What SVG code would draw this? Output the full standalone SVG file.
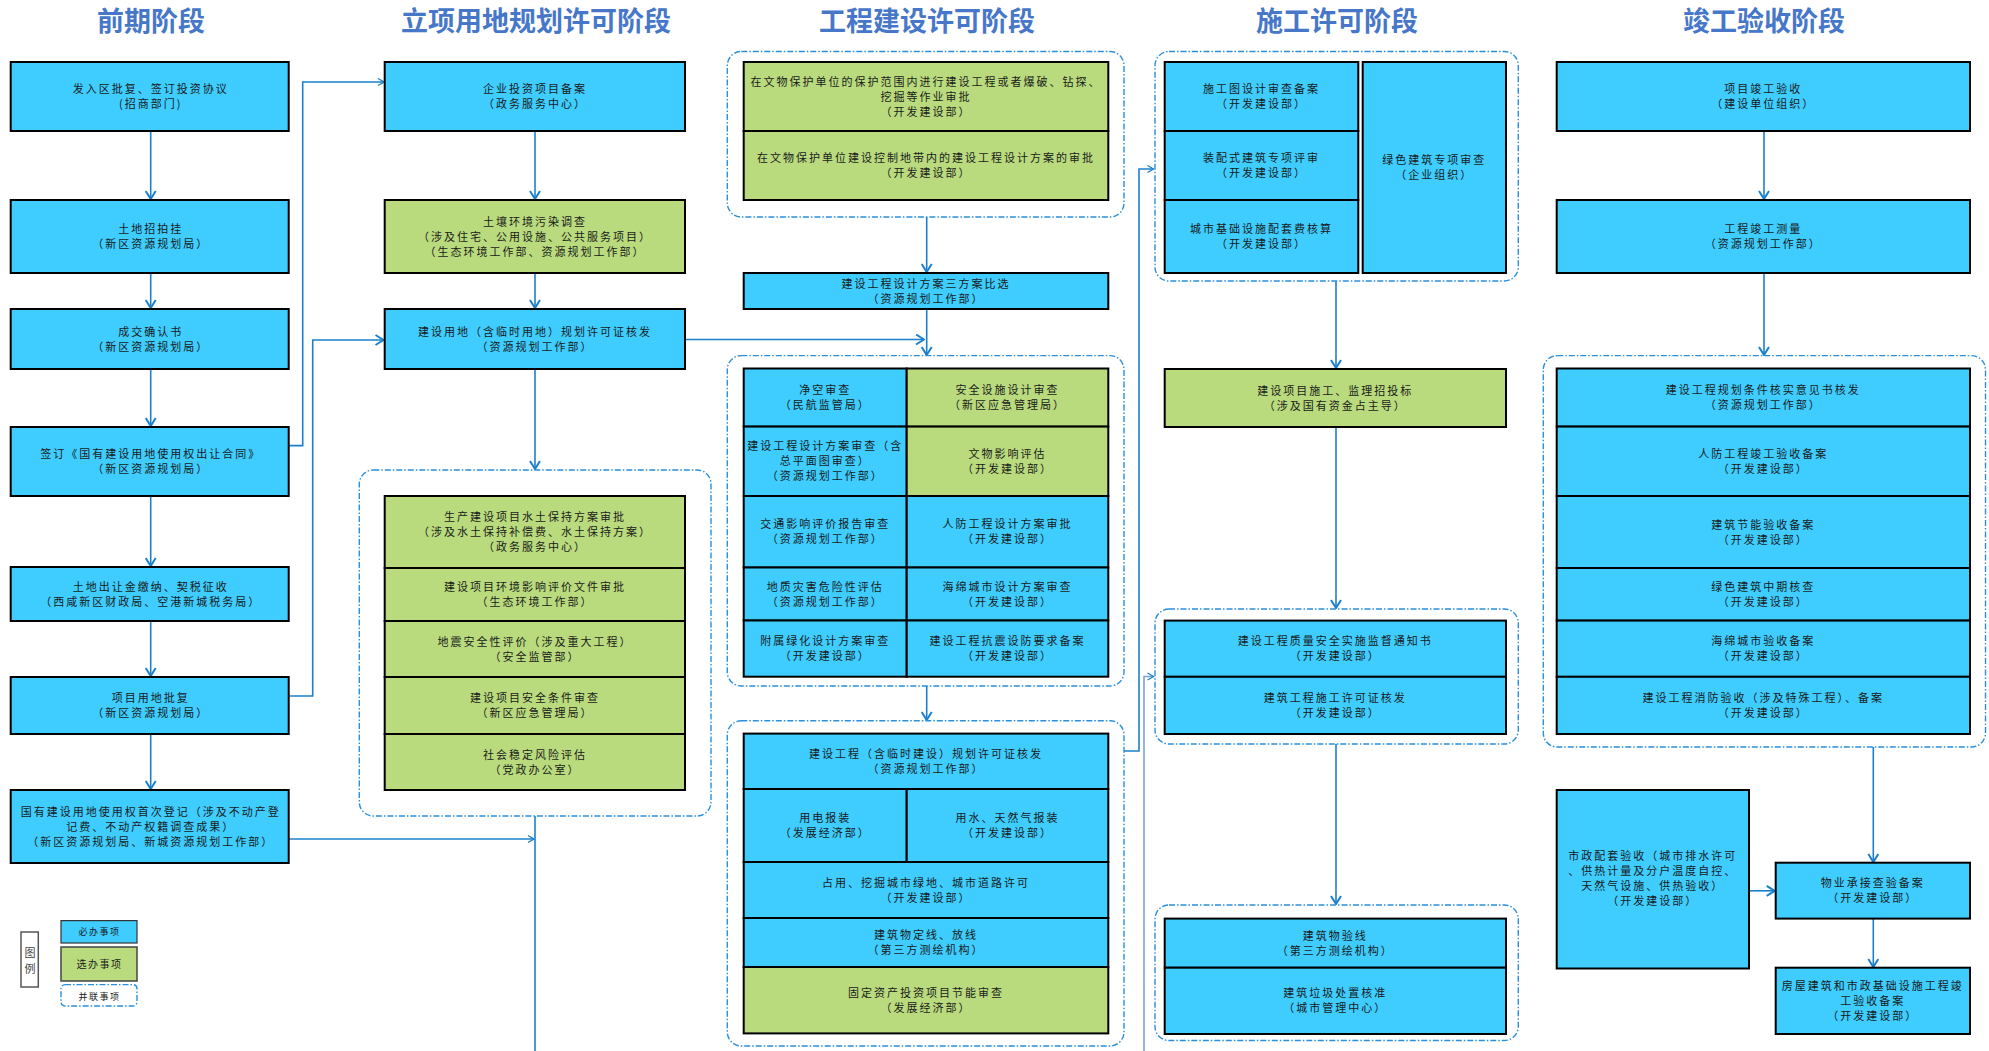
<svg xmlns="http://www.w3.org/2000/svg" width="1989" height="1051" viewBox="0 0 1989 1051">
<style>
.b{fill:#3ecdfe;stroke:#000;stroke-width:2}
.g{fill:#b9db7e;stroke:#000;stroke-width:2}
.grp{fill:none;stroke:#2a8fdc;stroke-width:1.4;stroke-dasharray:6 2 1.5 2}
.c{fill:none;stroke:#1b80cc;stroke-width:1.6}
.c2{fill:none;stroke:#7f9edc;stroke-width:1.6}
.t{font-family:"Noto Sans CJK SC","Noto Sans",sans-serif;font-size:11px;letter-spacing:2px;fill:#1a1a1a;text-anchor:middle}
.h{font-family:"Noto Sans CJK SC","Noto Sans",sans-serif;font-size:27px;font-weight:bold;fill:#4677c8;text-anchor:middle}
</style>
<defs>
<marker id="a" markerUnits="userSpaceOnUse" viewBox="0 0 10 12" markerWidth="10" markerHeight="12" refX="9" refY="6" orient="auto"><path d="M1,1 L9,6 L1,11" fill="none" stroke="#1b80cc" stroke-width="2"/></marker>
<marker id="s" markerUnits="userSpaceOnUse" viewBox="0 0 8 10" markerWidth="8" markerHeight="10" refX="7" refY="5" orient="auto"><path d="M1,1.5 L7,5 L1,8.5" fill="none" stroke="#1b80cc" stroke-width="1.3"/></marker>
</defs>

<g id="titles">
<text class="h" x="151" y="31">前期阶段</text>
<text class="h" x="536" y="31">立项用地规划许可阶段</text>
<text class="h" x="927" y="31">工程建设许可阶段</text>
<text class="h" x="1337" y="31">施工许可阶段</text>
<text class="h" x="1764" y="31">竣工验收阶段</text>
</g>

<g id="connectors">
<line class="c" x1="150.7" y1="131" x2="150.7" y2="199" marker-end="url(#a)"/>
<line class="c" x1="150.7" y1="273" x2="150.7" y2="308" marker-end="url(#a)"/>
<line class="c" x1="150.7" y1="369" x2="150.7" y2="426" marker-end="url(#a)"/>
<line class="c" x1="150.7" y1="496" x2="150.7" y2="566" marker-end="url(#a)"/>
<line class="c" x1="150.7" y1="621" x2="150.7" y2="676" marker-end="url(#a)"/>
<line class="c" x1="150.7" y1="734" x2="150.7" y2="789" marker-end="url(#a)"/>
<polyline class="c" points="288.7,445.6 302.7,445.6 302.7,82 384,82" marker-end="url(#s)"/>
<polyline class="c" points="288.7,696 312.7,696 312.7,340 383.5,340" marker-end="url(#a)"/>
<line class="c" x1="288.7" y1="839" x2="534" y2="839" marker-end="url(#s)"/>
<line class="c" x1="535" y1="131" x2="535" y2="199" marker-end="url(#a)"/>
<line class="c" x1="535" y1="273" x2="535" y2="308" marker-end="url(#a)"/>
<line class="c" x1="535" y1="369" x2="535" y2="469" marker-end="url(#a)"/>
<line class="c" x1="535" y1="816" x2="535" y2="1051"/>
<line class="c" x1="685" y1="339.5" x2="924" y2="339.5" marker-end="url(#a)"/>
<line class="c" x1="926.7" y1="217" x2="926.7" y2="272" marker-end="url(#a)"/>
<line class="c" x1="926.7" y1="309" x2="926.7" y2="355" marker-end="url(#a)"/>
<line class="c" x1="926.7" y1="686" x2="926.7" y2="720" marker-end="url(#a)"/>
<polyline class="c" points="1124,751 1139,751 1139,169 1153.5,169" marker-end="url(#s)"/>
<polyline class="c2" points="1144,1051 1144,676.5 1153.5,676.5" marker-end="url(#s)"/>
<line class="c" x1="1336" y1="281" x2="1336" y2="368" marker-end="url(#a)"/>
<line class="c" x1="1336" y1="427" x2="1336" y2="608" marker-end="url(#a)"/>
<line class="c" x1="1336" y1="744" x2="1336" y2="904" marker-end="url(#a)"/>
<line class="c" x1="1764" y1="131" x2="1764" y2="199" marker-end="url(#a)"/>
<line class="c" x1="1764" y1="273" x2="1764" y2="355" marker-end="url(#a)"/>
<line class="c" x1="1873.3" y1="747" x2="1873.3" y2="862" marker-end="url(#a)"/>
<line class="c" x1="1873.3" y1="918.6" x2="1873.3" y2="967" marker-end="url(#a)"/>
<line class="c" x1="1749" y1="890.8" x2="1774.7" y2="890.8" marker-end="url(#a)"/>
</g>

<g id="n-c1-1"><rect class="b" x="10.7" y="62" width="278" height="69"/><text class="t" x="150.7" y="93">发入区批复、签订投资协议</text><text class="t" x="150.7" y="108">(招商部门)</text></g>
<g id="n-c1-2"><rect class="b" x="10.7" y="200" width="278" height="73"/><text class="t" x="150.7" y="233">土地招拍挂</text><text class="t" x="150.7" y="248">（新区资源规划局）</text></g>
<g id="n-c1-3"><rect class="b" x="10.7" y="309" width="278" height="60"/><text class="t" x="150.7" y="335.5">成交确认书</text><text class="t" x="150.7" y="350.5">（新区资源规划局）</text></g>
<g id="n-c1-4"><rect class="b" x="10.7" y="427" width="278" height="69"/><text class="t" x="150.7" y="458">签订《国有建设用地使用权出让合同》</text><text class="t" x="150.7" y="473">（新区资源规划局）</text></g>
<g id="n-c1-5"><rect class="b" x="10.7" y="567" width="278" height="54"/><text class="t" x="150.7" y="590.5">土地出让金缴纳、契税征收</text><text class="t" x="150.7" y="605.5">（西咸新区财政局、空港新城税务局）</text></g>
<g id="n-c1-6"><rect class="b" x="10.7" y="677" width="278" height="57"/><text class="t" x="150.7" y="702">项目用地批复</text><text class="t" x="150.7" y="717">（新区资源规划局）</text></g>
<g id="n-c1-7"><rect class="b" x="10.7" y="790" width="278" height="73"/><text class="t" x="150.7" y="815.5">国有建设用地使用权首次登记（涉及不动产登</text><text class="t" x="150.7" y="830.5">记费、不动产权籍调查成果）</text><text class="t" x="150.7" y="845.5">（新区资源规划局、新城资源规划工作部）</text></g>

<g id="legend">
<rect x="21" y="932" width="17.3" height="55" fill="#fff" stroke="#555" stroke-width="1.5"/>
<text class="t" x="30" y="957" style="letter-spacing:0;fill:#444">图</text>
<text class="t" x="30" y="973" style="letter-spacing:0;fill:#444">例</text>
<rect x="61" y="920.6" width="76" height="22.4" fill="#3ecdfe" stroke="#333" stroke-width="1.2"/>
<text class="t" x="99.5" y="935" style="font-size:9px;letter-spacing:1.5px">必办事项</text>
<rect x="61" y="947" width="76" height="34" fill="#b9db7e" stroke="#444" stroke-width="1.5"/>
<text class="t" x="99.5" y="967.5" style="font-size:10px;letter-spacing:1.5px">选办事项</text>
<rect class="grp" x="61" y="984.6" width="76" height="21.4" rx="4"/>
<text class="t" x="99.5" y="999.5" style="font-size:9px;letter-spacing:1.5px">并联事项</text>
</g>

<g id="n-c2-1"><rect class="b" x="384.7" y="62" width="300.3" height="69"/><text class="t" x="535" y="93">企业投资项目备案</text><text class="t" x="535" y="108">（政务服务中心）</text></g>
<g id="n-c2-2"><rect class="g" x="384.7" y="200" width="300.3" height="73"/><text class="t" x="535" y="225.5">土壤环境污染调查</text><text class="t" x="535" y="240.5">（涉及住宅、公用设施、公共服务项目）</text><text class="t" x="535" y="255.5">（生态环境工作部、资源规划工作部）</text></g>
<g id="n-c2-3"><rect class="b" x="384.7" y="309" width="300.3" height="60"/><text class="t" x="535" y="335.5">建设用地（含临时用地）规划许可证核发</text><text class="t" x="535" y="350.5">（资源规划工作部）</text></g>
<g id="grp-c2"><rect class="grp" x="359.3" y="470" width="351.7" height="346" rx="14"/></g>
<g id="n-c2-r1"><rect class="g" x="384.7" y="496" width="300.3" height="72"/><text class="t" x="535" y="521">生产建设项目水土保持方案审批</text><text class="t" x="535" y="536">（涉及水土保持补偿费、水土保持方案）</text><text class="t" x="535" y="551">（政务服务中心）</text></g>
<g id="n-c2-r2"><rect class="g" x="384.7" y="568" width="300.3" height="53"/><text class="t" x="535" y="591">建设项目环境影响评价文件审批</text><text class="t" x="535" y="606">（生态环境工作部）</text></g>
<g id="n-c2-r3"><rect class="g" x="384.7" y="621" width="300.3" height="56"/><text class="t" x="535" y="645.5">地震安全性评价（涉及重大工程）</text><text class="t" x="535" y="660.5">（安全监管部）</text></g>
<g id="n-c2-r4"><rect class="g" x="384.7" y="677" width="300.3" height="57"/><text class="t" x="535" y="702">建设项目安全条件审查</text><text class="t" x="535" y="717">（新区应急管理局）</text></g>
<g id="n-c2-r5"><rect class="g" x="384.7" y="734" width="300.3" height="56"/><text class="t" x="535" y="758.5">社会稳定风险评估</text><text class="t" x="535" y="773.5">（党政办公室）</text></g>

<g id="grp-c3-1"><rect class="grp" x="727.3" y="51.5" width="396.7" height="165.5" rx="14"/></g>
<g id="n-c3-1"><rect class="g" x="743.7" y="62" width="364.6" height="69"/><text class="t" x="926" y="85.5">在文物保护单位的保护范围内进行建设工程或者爆破、钻探、</text><text class="t" x="926" y="100.5">挖掘等作业审批</text><text class="t" x="926" y="115.5">（开发建设部）</text></g>
<g id="n-c3-2"><rect class="g" x="743.7" y="131" width="364.6" height="69"/><text class="t" x="926" y="162">在文物保护单位建设控制地带内的建设工程设计方案的审批</text><text class="t" x="926" y="177">（开发建设部）</text></g>
<g id="n-c3-3"><rect class="b" x="743.7" y="273" width="364.6" height="36"/><text class="t" x="926" y="287.5">建设工程设计方案三方案比选</text><text class="t" x="926" y="302.5">（资源规划工作部）</text></g>
<g id="grp-c3-2"><rect class="grp" x="727.3" y="355.6" width="396.7" height="330.4" rx="14"/></g>
<g id="n-c3-4"><rect class="b" x="743.7" y="368.5" width="163" height="58.1"/><text class="t" x="825.2" y="394">净空审查</text><text class="t" x="825.2" y="409">（民航监管局）</text></g>
<g id="n-c3-5"><rect class="g" x="906.7" y="368.5" width="201.6" height="58.1"/><text class="t" x="1007.5" y="394">安全设施设计审查</text><text class="t" x="1007.5" y="409">（新区应急管理局）</text></g>
<g id="n-c3-6"><rect class="b" x="743.7" y="426.6" width="163" height="69.4"/><text class="t" x="825.2" y="450.3">建设工程设计方案审查（含</text><text class="t" x="825.2" y="465.3">总平面图审查）</text><text class="t" x="825.2" y="480.3">（资源规划工作部）</text></g>
<g id="n-c3-7"><rect class="g" x="906.7" y="426.6" width="201.6" height="69.4"/><text class="t" x="1007.5" y="457.8">文物影响评估</text><text class="t" x="1007.5" y="472.8">（开发建设部）</text></g>
<g id="n-c3-8"><rect class="b" x="743.7" y="496" width="163" height="71.5"/><text class="t" x="825.2" y="528.3">交通影响评价报告审查</text><text class="t" x="825.2" y="543.3">（资源规划工作部）</text></g>
<g id="n-c3-9"><rect class="b" x="906.7" y="496" width="201.6" height="71.5"/><text class="t" x="1007.5" y="528.3">人防工程设计方案审批</text><text class="t" x="1007.5" y="543.3">（开发建设部）</text></g>
<g id="n-c3-10"><rect class="b" x="743.7" y="567.5" width="163" height="53"/><text class="t" x="825.2" y="590.5">地质灾害危险性评估</text><text class="t" x="825.2" y="605.5">（资源规划工作部）</text></g>
<g id="n-c3-11"><rect class="b" x="906.7" y="567.5" width="201.6" height="53"/><text class="t" x="1007.5" y="590.5">海绵城市设计方案审查</text><text class="t" x="1007.5" y="605.5">（开发建设部）</text></g>
<g id="n-c3-12"><rect class="b" x="743.7" y="620.5" width="163" height="56.2"/><text class="t" x="825.2" y="645.1">附属绿化设计方案审查</text><text class="t" x="825.2" y="660.1">（开发建设部）</text></g>
<g id="n-c3-13"><rect class="b" x="906.7" y="620.5" width="201.6" height="56.2"/><text class="t" x="1007.5" y="645.1">建设工程抗震设防要求备案</text><text class="t" x="1007.5" y="660.1">（开发建设部）</text></g>
<g id="grp-c3-3"><rect class="grp" x="727.3" y="720.7" width="396.7" height="325.3" rx="14"/></g>
<g id="n-c3-14"><rect class="b" x="743.7" y="733.6" width="364.6" height="55.4"/><text class="t" x="926" y="757.8">建设工程（含临时建设）规划许可证核发</text><text class="t" x="926" y="772.8">（资源规划工作部）</text></g>
<g id="n-c3-15"><rect class="b" x="743.7" y="789" width="163" height="73"/><text class="t" x="825.2" y="822">用电报装</text><text class="t" x="825.2" y="837">（发展经济部）</text></g>
<g id="n-c3-16"><rect class="b" x="906.7" y="789" width="201.6" height="73"/><text class="t" x="1007.5" y="822">用水、天然气报装</text><text class="t" x="1007.5" y="837">（开发建设部）</text></g>
<g id="n-c3-17"><rect class="b" x="743.7" y="862" width="364.6" height="56"/><text class="t" x="926" y="886.5">占用、挖掘城市绿地、城市道路许可</text><text class="t" x="926" y="901.5">（开发建设部）</text></g>
<g id="n-c3-18"><rect class="b" x="743.7" y="918" width="364.6" height="49"/><text class="t" x="926" y="939">建筑物定线、放线</text><text class="t" x="926" y="954">（第三方测绘机构）</text></g>
<g id="n-c3-19"><rect class="g" x="743.7" y="967" width="364.6" height="66.4"/><text class="t" x="926" y="996.7">固定资产投资项目节能审查</text><text class="t" x="926" y="1011.7">（发展经济部）</text></g>

<g id="grp-c4-1"><rect class="grp" x="1155" y="51.5" width="363.3" height="229.5" rx="14"/></g>
<g id="n-c4-1"><rect class="b" x="1164.7" y="62" width="193.6" height="69"/><text class="t" x="1261.5" y="93">施工图设计审查备案</text><text class="t" x="1261.5" y="108">（开发建设部）</text></g>
<g id="n-c4-2"><rect class="b" x="1164.7" y="131" width="193.6" height="69"/><text class="t" x="1261.5" y="162">装配式建筑专项评审</text><text class="t" x="1261.5" y="177">（开发建设部）</text></g>
<g id="n-c4-3"><rect class="b" x="1164.7" y="200" width="193.6" height="73"/><text class="t" x="1261.5" y="233">城市基础设施配套费核算</text><text class="t" x="1261.5" y="248">（开发建设部）</text></g>
<g id="n-c4-4"><rect class="b" x="1362.7" y="62" width="143.3" height="211"/><text class="t" x="1434.3" y="164">绿色建筑专项审查</text><text class="t" x="1434.3" y="179">（企业组织）</text></g>
<g id="n-c4-5"><rect class="g" x="1164.7" y="369" width="341.3" height="58"/><text class="t" x="1335.3" y="394.5">建设项目施工、监理招投标</text><text class="t" x="1335.3" y="409.5">（涉及国有资金占主导）</text></g>
<g id="grp-c4-2"><rect class="grp" x="1155" y="609" width="363.3" height="135" rx="14"/></g>
<g id="n-c4-6"><rect class="b" x="1164.7" y="620.6" width="341.3" height="56.2"/><text class="t" x="1335.3" y="645.2">建设工程质量安全实施监督通知书</text><text class="t" x="1335.3" y="660.2">（开发建设部）</text></g>
<g id="n-c4-7"><rect class="b" x="1164.7" y="676.8" width="341.3" height="57.2"/><text class="t" x="1335.3" y="701.9">建筑工程施工许可证核发</text><text class="t" x="1335.3" y="716.9">（开发建设部）</text></g>
<g id="grp-c4-3"><rect class="grp" x="1155" y="905" width="363.3" height="135.5" rx="14"/></g>
<g id="n-c4-8"><rect class="b" x="1164.7" y="918.6" width="341.3" height="49.1"/><text class="t" x="1335.3" y="939.7">建筑物验线</text><text class="t" x="1335.3" y="954.7">（第三方测绘机构）</text></g>
<g id="n-c4-9"><rect class="b" x="1164.7" y="967.7" width="341.3" height="66.3"/><text class="t" x="1335.3" y="997.4">建筑垃圾处置核准</text><text class="t" x="1335.3" y="1012.4">（城市管理中心）</text></g>

<g id="n-c5-1"><rect class="b" x="1556.7" y="62" width="413.3" height="69"/><text class="t" x="1763.3" y="93">项目竣工验收</text><text class="t" x="1763.3" y="108">（建设单位组织）</text></g>
<g id="n-c5-2"><rect class="b" x="1556.7" y="200" width="413.3" height="73"/><text class="t" x="1763.3" y="233">工程竣工测量</text><text class="t" x="1763.3" y="248">（资源规划工作部）</text></g>
<g id="grp-c5"><rect class="grp" x="1543.3" y="355.6" width="442.2" height="391.4" rx="14"/></g>
<g id="n-c5-r1"><rect class="b" x="1556.7" y="368.5" width="413.3" height="58.1"/><text class="t" x="1763.3" y="394">建设工程规划条件核实意见书核发</text><text class="t" x="1763.3" y="409">（资源规划工作部）</text></g>
<g id="n-c5-r2"><rect class="b" x="1556.7" y="426.6" width="413.3" height="69.4"/><text class="t" x="1763.3" y="457.8">人防工程竣工验收备案</text><text class="t" x="1763.3" y="472.8">（开发建设部）</text></g>
<g id="n-c5-r3"><rect class="b" x="1556.7" y="496" width="413.3" height="72"/><text class="t" x="1763.3" y="528.5">建筑节能验收备案</text><text class="t" x="1763.3" y="543.5">（开发建设部）</text></g>
<g id="n-c5-r4"><rect class="b" x="1556.7" y="568" width="413.3" height="52.6"/><text class="t" x="1763.3" y="590.8">绿色建筑中期核查</text><text class="t" x="1763.3" y="605.8">（开发建设部）</text></g>
<g id="n-c5-r5"><rect class="b" x="1556.7" y="620.6" width="413.3" height="56.2"/><text class="t" x="1763.3" y="645.2">海绵城市验收备案</text><text class="t" x="1763.3" y="660.2">（开发建设部）</text></g>
<g id="n-c5-r6"><rect class="b" x="1556.7" y="676.8" width="413.3" height="57.2"/><text class="t" x="1763.3" y="701.9">建设工程消防验收（涉及特殊工程）、备案</text><text class="t" x="1763.3" y="716.9">（开发建设部）</text></g>
<g id="n-c5-3"><rect class="b" x="1775.7" y="862.7" width="194.3" height="55.9"/><text class="t" x="1872.8" y="887.2">物业承接查验备案</text><text class="t" x="1872.8" y="902.2">（开发建设部）</text></g>
<g id="n-c5-4"><rect class="b" x="1775.7" y="967.7" width="194.3" height="66.3"/><text class="t" x="1872.8" y="989.9">房屋建筑和市政基础设施工程竣</text><text class="t" x="1872.8" y="1004.9">工验收备案</text><text class="t" x="1872.8" y="1019.9">（开发建设部）</text></g>
<g id="n-c5-5"><rect class="b" x="1556.7" y="790" width="192.3" height="178.5"/><text class="t" x="1652.8" y="860.4">市政配套验收（城市排水许可</text><text class="t" x="1652.8" y="875.4">、供热计量及分户温度自控、</text><text class="t" x="1652.8" y="890.4">天然气设施、供热验收）</text><text class="t" x="1652.8" y="905.4">（开发建设部）</text></g>
</svg>
